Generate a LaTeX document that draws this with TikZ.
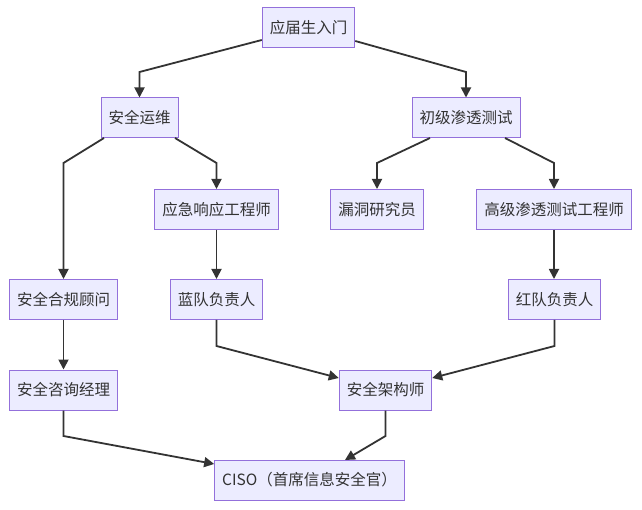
\documentclass[tikz,border=0pt]{standalone}
\usepackage{fontspec}
\setmainfont{Noto Sans CJK SC}
\usetikzlibrary{arrows.meta}
\definecolor{boxfill}{HTML}{ECECFF}
\definecolor{boxline}{HTML}{9370DB}
\definecolor{ink}{HTML}{333333}
\tikzset{
  role/.style={draw=boxline, fill=boxfill, line width=1pt, text=ink,
    minimum height=40pt, inner xsep=7.5pt, inner ysep=0pt,
    font=\fontsize{15.5}{18}\selectfont},
  edge/.style={draw=ink, line width=1.8pt,
    -{Triangle[length=10pt,width=10pt]}}
}
\begin{document}
\begin{tikzpicture}[x=1pt,y=-1pt]
\useasboundingbox (0,0) rectangle (642,510);
\node[role] (start) at (308.5,28) {应届生入门};
\node[role] (ops) at (139.5,118) {安全运维};
\node[role] (pentest) at (466,118) {初级渗透测试};
\node[role] (ir) at (216.5,209.5) {应急响应工程师};
\node[role] (vuln) at (377,209.5) {漏洞研究员};
\node[role] (senior) at (554,209.5) {高级渗透测试工程师};
\node[role] (comply) at (63.5,299.5) {安全合规顾问};
\node[role] (blue) at (216.5,299.5) {蓝队负责人};
\node[role] (red) at (554.5,299.5) {红队负责人};
\node[role] (consult) at (63.5,390) {安全咨询经理};
\node[role] (arch) at (385.5,390) {安全架构师};
\node[role] (ciso) at (309.5,480) {CISO（首席信息安全官）};
% first split
\draw[edge] (start.west |- 0,40) -- (ops.north |- 0,72) -- (ops.north);
\draw[edge] (start.east |- 0,41) -- (pentest.north |- 0,72) -- (pentest.north);
% second level
\draw[edge] (104,138) -- (comply.north |- 0,163) -- (comply.north);
\draw[edge] (175,138) -- (ir.north |- 0,163) -- (ir.north);
\draw[edge] (430,138) -- (vuln.north |- 0,163) -- (vuln.north);
\draw[edge] (505,138) -- (senior.north |- 0,163) -- (senior.north);
% straight down
\draw[edge] (ir) -- (blue);
\draw[edge] (senior.south) -- (red.north -| senior.south);
\draw[edge] (comply) -- (consult);
% merge
\draw[edge] (blue.south) -- (blue.south |- 0,346) -- (arch.west |- 0,378);
\draw[edge] (red.south) -- (red.south |- 0,346) -- (arch.east |- 0,378);
\draw[edge] (consult.south) -- (consult.south |- 0,436) -- (ciso.west |- 0,464);
\draw[edge] (arch.south) -- (arch.south |- 0,436) -- (345,460);
\end{tikzpicture}
\end{document}
